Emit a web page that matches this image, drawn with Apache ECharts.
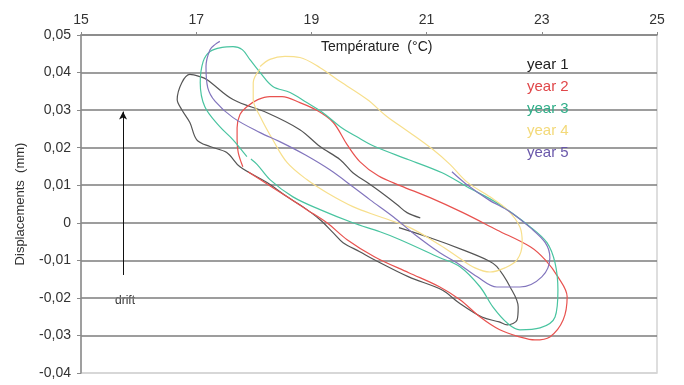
<!DOCTYPE html>
<html>
<head>
<meta charset="utf-8">
<script src="https://cdn.jsdelivr.net/npm/echarts@6/dist/echarts.min.js"></script>
<style>html,body{margin:0;padding:0;background:#fff}#c{width:684px;height:385px}</style>
</head>
<body>
<div id="c"></div>
<script>
// ---- data (temperature °C, displacement mm) ----
const seriesNames = ['year 1', 'year 2', 'year 3', 'year 4', 'year 5'];
const xTicks = [15, 17, 19, 21, 23, 25];
const yTicks = [-0.04, -0.03, -0.02, -0.01, 0, 0.01, 0.02, 0.03, 0.04, 0.05];

const year1T = [20.89,20.66,20.49,20.19,19.97,19.72,19.50,19.15,18.80,18.23,17.64,17.19,17.07,16.89,16.75,16.67,16.75,16.89,17.01,17.24,17.53,17.76,18.23,18.58,18.85,19.15,19.38,19.55,19.84,20.10,20.69,21.27,21.56,21.96,22.26,22.40,22.57,22.59,22.45,22.22,22.05,21.63,21.06,20.52];
const year1D = [0.0013,0.0027,0.0048,0.0083,0.0107,0.0133,0.0168,0.0203,0.0248,0.0293,0.0328,0.0381,0.0389,0.0395,0.0373,0.0328,0.0301,0.0267,0.0221,0.0203,0.0187,0.0149,0.0107,0.0069,0.0043,0.0008,-0.0027,-0.0053,-0.0077,-0.0099,-0.0144,-0.0179,-0.0213,-0.0251,-0.0264,-0.0272,-0.0259,-0.0224,-0.0171,-0.0117,-0.0099,-0.0072,-0.0040,-0.0013];

const year2T = [17.81,17.73,17.71,17.71,17.76,17.88,18.07,18.28,18.49,18.80,19.10,19.38,19.62,19.84,20.16,20.54,21.06,21.63,22.22,22.80,23.06,23.28,23.44,23.37,23.14,22.88,22.62,22.27,21.93,21.58,21.23,20.69,20.10,19.62,19.27,18.92,18.58,18.11,17.90];
const year2D = [0.0149,0.0187,0.0221,0.0253,0.0288,0.0309,0.0328,0.0336,0.0336,0.0320,0.0299,0.0267,0.0208,0.0163,0.0125,0.0099,0.0067,0.0027,-0.0019,-0.0064,-0.0099,-0.0144,-0.0197,-0.0259,-0.0304,-0.0312,-0.0304,-0.0285,-0.0251,-0.0205,-0.0171,-0.0133,-0.0091,-0.0045,0.0000,0.0035,0.0069,0.0115,0.0136];

const year3T = [17.88,17.64,17.41,17.15,17.07,17.12,17.24,17.45,17.64,17.80,17.93,18.11,18.33,18.63,18.92,19.20,19.50,19.79,20.10,20.69,21.27,21.70,22.22,22.80,23.09,23.23,23.28,23.23,22.97,22.62,22.40,22.15,21.93,21.58,21.23,20.54,20.19,19.72,19.15,18.68,18.28,18.06,17.95];
const year3D = [0.0176,0.0221,0.0256,0.0309,0.0373,0.0429,0.0456,0.0467,0.0469,0.0461,0.0435,0.0400,0.0363,0.0347,0.0320,0.0293,0.0256,0.0229,0.0203,0.0168,0.0133,0.0096,0.0053,-0.0011,-0.0053,-0.0107,-0.0179,-0.0251,-0.0280,-0.0285,-0.0267,-0.0224,-0.0171,-0.0117,-0.0093,-0.0045,-0.0024,0.0000,0.0035,0.0069,0.0115,0.0155,0.0170];

const year4T = [18.11,18.28,18.54,18.80,19.15,19.50,19.97,20.31,20.71,21.11,21.41,21.70,22.10,22.40,22.62,22.66,22.57,22.36,22.10,21.84,21.56,21.23,20.71,20.19,19.72,19.27,18.92,18.58,18.33,18.11,17.99,17.99,18.11];
const year4D = [0.0416,0.0435,0.0443,0.0440,0.0413,0.0376,0.0328,0.0283,0.0240,0.0195,0.0155,0.0109,0.0069,0.0035,-0.0011,-0.0053,-0.0099,-0.0120,-0.0131,-0.0120,-0.0093,-0.0059,-0.0013,0.0016,0.0043,0.0080,0.0115,0.0160,0.0221,0.0283,0.0328,0.0373,0.0410];

const year5T = [21.44,21.72,22.08,22.45,22.80,23.06,23.14,23.00,22.62,22.22,21.88,21.53,21.23,20.80,20.42,20.02,19.72,19.32,18.89,18.45,18.11,17.64,17.33,17.20,17.17,17.24,17.33,17.41];
const year5D = [0.0136,0.0099,0.0061,0.0029,-0.0013,-0.0053,-0.0093,-0.0144,-0.0171,-0.0171,-0.0144,-0.0107,-0.0080,-0.0032,0.0016,0.0061,0.0096,0.0141,0.0181,0.0216,0.0240,0.0280,0.0323,0.0360,0.0416,0.0461,0.0475,0.0483];

const driftX = [15.73, 15.73];
const driftY = [-0.0139, 0.0296];

// ---- styling ----
const lineColors = ['#555555', '#e8524f', '#49c4a0', '#f7df8c', '#8275bd'];
const textColors = ['#222222', '#e0474a', '#2fae88', '#f3d979', '#6a58aa'];

const allT = [year1T, year2T, year3T, year4T, year5T];
const allD = [year1D, year2D, year3D, year4D, year5D];

const zip = (a, b) => a.map((v, i) => [v, b[i]]);

const series = seriesNames.map((n, k) => ({
  name: n,
  type: 'line',
  data: zip(allT[k], allD[k]),
  showSymbol: false,
  symbol: 'none',
  smooth: 0.35,
  lineStyle: { color: lineColors[k], width: 1.2 },
  itemStyle: { color: lineColors[k] },
  z: 3
}));

series.push({
  name: 'drift',
  type: 'line',
  data: [],
  markLine: {
    silent: true,
    symbol: ['none', 'arrow'],
    symbolSize: [6, 8],
    label: { show: false },
    lineStyle: { color: '#111', width: 1, type: 'solid' },
    data: [[{ coord: [driftX[0], driftY[0]] }, { coord: [driftX[1], driftY[1]] }]]
  }
});

const fmtY = v => {
  const r = Math.round(v * 100) / 100;
  if (r === 0) return '0';
  return r.toFixed(2).replace('.', ',');
};

const splitColors = yTicks.map((v, i) => i === 0 ? '#d4d4d4' : '#7c7c7c');

const chart = echarts.init(document.getElementById('c'), null, { renderer: 'canvas' });
chart.setOption({
  animation: false,
  backgroundColor: '#ffffff',
  textStyle: { fontFamily: 'Liberation Sans, Arial, sans-serif' },
  grid: { left: 81, right: 27, top: 35, bottom: 12, show: true, borderColor: '#d4d4d4', borderWidth: 1.5, backgroundColor: 'transparent' },
  xAxis: {
    type: 'value',
    position: 'top',
    min: xTicks[0],
    max: xTicks[xTicks.length - 1],
    interval: 2,
    axisLine: { show: true, onZero: false, lineStyle: { color: '#8a8a8a', width: 1.5 } },
    axisTick: { show: true, length: 3, lineStyle: { color: '#8a8a8a' } },
    axisLabel: { color: '#333', fontSize: 14, margin: 8, fontFamily: 'Liberation Sans, Arial, sans-serif' },
    splitLine: { show: false }
  },
  yAxis: {
    type: 'value',
    min: yTicks[0],
    max: yTicks[yTicks.length - 1],
    interval: 0.01,
    axisLine: { show: true, onZero: false, lineStyle: { color: '#8a8a8a', width: 1.5 } },
    axisTick: { show: true, length: 4, lineStyle: { color: '#8a8a8a' } },
    axisLabel: { color: '#333', fontSize: 14, margin: 10, formatter: fmtY, fontFamily: 'Liberation Sans, Arial, sans-serif' },
    splitLine: { show: true, lineStyle: { color: splitColors, width: 1.5 } },
    name: 'Displacements  (mm)',
    nameLocation: 'middle',
    nameGap: 54,
    nameRotate: 90,
    nameTextStyle: { color: '#333', fontSize: 13, fontFamily: 'Liberation Sans, Arial, sans-serif' }
  },
  legend: {
    orient: 'vertical',
    left: 517,
    top: 52,
    icon: 'none',
    itemWidth: 0,
    itemHeight: 14,
    itemGap: 7,
    selectedMode: false,
    textStyle: { fontSize: 15, fontFamily: 'Liberation Sans, Arial, sans-serif' },
    data: seriesNames.map((n, k) => ({ name: n, textStyle: { color: textColors[k] } }))
  },
  graphic: [
    { type: 'text', left: 321, top: 40, style: { text: 'Température  (°C)', fill: '#222', font: '14px "Liberation Sans", Arial, sans-serif' } },
    { type: 'text', left: 115, top: 295, style: { text: 'drift', fill: '#333', font: '12px "Liberation Sans", Arial, sans-serif' } }
  ],
  series: series
});
</script>
</body>
</html>
